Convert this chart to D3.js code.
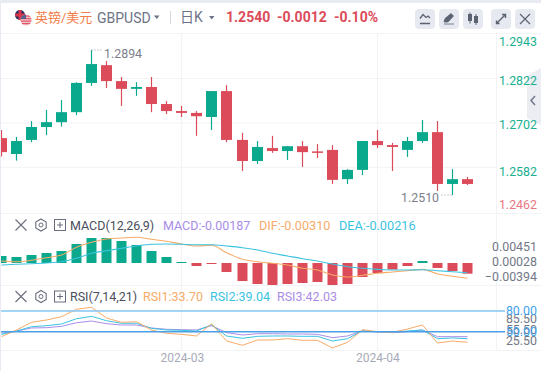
<!DOCTYPE html>
<html>
<head>
<meta charset="utf-8">
<script src="https://cdn.jsdelivr.net/npm/d3@7"></script>
<style>
  html, body { margin: 0; padding: 0; background: #fff; overflow: hidden; }
  text { font-family: Roboto, "Noto Sans CJK SC", sans-serif; }
</style>
</head>
<body>
<svg id="chart" width="541" height="371"></svg>
<script>
// GBP/USD daily candles
const opens = [1.2661, 1.2618, 1.2656, 1.2691, 1.2704, 1.2731, 1.2810, 1.2858, 1.2815, 1.2794, 1.2799, 1.2753, 1.2734, 1.2729, 1.2718, 1.2788, 1.2656, 1.2599, 1.2634, 1.2626, 1.2639, 1.2625, 1.2629, 1.2550, 1.2575, 1.2653, 1.2642, 1.2629, 1.2653, 1.2677, 1.2537, 1.2550];
const highs = [1.2683, 1.2664, 1.2707, 1.2737, 1.2764, 1.2812, 1.2899, 1.2869, 1.2826, 1.2812, 1.2826, 1.2761, 1.2748, 1.2734, 1.2788, 1.2804, 1.2675, 1.2653, 1.2667, 1.2639, 1.2653, 1.2645, 1.2642, 1.2577, 1.2653, 1.2683, 1.2648, 1.2664, 1.2710, 1.2707, 1.2577, 1.2556];
const lows = [1.2611, 1.2600, 1.2650, 1.2669, 1.2692, 1.2723, 1.2802, 1.2796, 1.2748, 1.2775, 1.2731, 1.2726, 1.2718, 1.2667, 1.2683, 1.2650, 1.2572, 1.2591, 1.2621, 1.2602, 1.2583, 1.2607, 1.2537, 1.2537, 1.2561, 1.2634, 1.2572, 1.2610, 1.2648, 1.2518, 1.2507, 1.2534];
const closes = [1.2623, 1.2653, 1.2691, 1.2704, 1.2731, 1.2810, 1.2861, 1.2815, 1.2794, 1.2799, 1.2753, 1.2734, 1.2729, 1.2720, 1.2788, 1.2656, 1.2599, 1.2637, 1.2626, 1.2639, 1.2623, 1.2621, 1.2548, 1.2575, 1.2653, 1.2642, 1.2637, 1.2653, 1.2677, 1.2537, 1.2550, 1.2537];

const macdBars = [0.00124, 0.00106, 0.00142, 0.00177, 0.00212, 0.00336, 0.00442, 0.00442, 0.00389, 0.00319, 0.00212, 0.00106, 0.00018, -0.00053, -0.00018, -0.00159, -0.00319, -0.00372, -0.00389, -0.00372, -0.00354, -0.00336, -0.00389, -0.00372, -0.00248, -0.00177, -0.00115, -0.00053, 0.00035, -0.00088, -0.00142, -0.00189];
const difLine = [0.00035, 0.00023, 0.00048, 0.00094, 0.00142, 0.00278, 0.00366, 0.00425, 0.00442, 0.00455, 0.00419, 0.00384, 0.00336, 0.00301, 0.00313, 0.00182, 0.00065, 0.00023, -0.00005, -0.00035, -0.00094, -0.00124, -0.00212, -0.00248, -0.00218, -0.00182, -0.00159, -0.00136, -0.00112, -0.00195, -0.00235, -0.00271];
const deaLine = [-0.00035, -0.00023, -0.00012, 0, 0.00023, 0.00083, 0.00172, 0.00218, 0.0026, 0.00301, 0.00331, 0.00336, 0.00331, 0.00324, 0.00324, 0.00301, 0.00271, 0.0023, 0.00172, 0.00124, 0.00076, 0.00035, -0.00018, -0.00065, -0.00094, -0.00112, -0.00124, -0.00124, -0.00119, -0.00136, -0.00154, -0.00172];

const rsi1 = [42.8, 52.5, 63.6, 67.0, 71.7, 82.5, 85.4, 69.9, 63.6, 64.5, 52.5, 47.7, 46.2, 43.8, 61.6, 36.5, 30.3, 38.0, 38.0, 39.9, 37.5, 37.5, 26.4, 34.6, 52.9, 50.0, 49.1, 53.9, 59.7, 33.6, 36.5, 34.6];
const rsi2 = [46.2, 51.0, 57.2, 58.7, 61.2, 68.8, 72.3, 65.9, 62.2, 62.2, 54.9, 52.5, 52.0, 51.0, 60.1, 43.8, 40.4, 43.3, 43.8, 43.8, 43.3, 43.3, 36.5, 39.9, 51.4, 50.0, 49.6, 51.0, 52.5, 39.9, 40.9, 39.9];
const rsi3 = [47.7, 51.0, 55.4, 55.8, 57.8, 63.0, 65.5, 61.6, 59.7, 59.7, 55.4, 53.5, 52.9, 52.5, 58.7, 48.6, 45.2, 47.1, 47.1, 46.7, 46.7, 46.2, 41.3, 43.8, 51.0, 49.6, 48.6, 50.0, 52.5, 42.8, 42.8, 42.8];

// Axis labels
const priceTicks = [1.2943, 1.2822, 1.2702, 1.2582, 1.2462];
const priceGrid = [1.2822, 1.2702, 1.2582];
const macdTicks = [0.00451, 0.00028, -0.00394];
const rsiRefLevels = [80, 50];
const rsiGreyTicks = [85.5, 55.5, 25.5];
const monthIndex = [12, 25];
const monthLabels = ["2024-03", "2024-04"];

const RED = "#dc4b5a";
const GREEN = "#0aa88c";
const ORANGE = "#f8ab68";
const CYAN = "#3cc3e0";
const PURPLE = "#a98ce8";
const GRID = "#f2f3f6";
const AXIS_FONT = "12.4px";

const svg = d3.select("#chart");
const indices = d3.range(opens.length);

const xScale = d3.scaleLinear().domain([0, 31]).range([1.5, 467.5]);
const priceScale = d3.scaleLinear().domain([1.2822, 1.2582]).range([78.5, 167.3]);
const macdScale = d3.scaleLinear().domain([-0.004, 0.004]).range([285.6, 240.4]);
const macdLabelScale = d3.scaleLinear().domain([-0.00394, 0.00451]).range([276.7, 247]);
const rsiScale = d3.scaleLinear().domain([50, 80]).range([331.7, 311]);
const rsiLabelScale = d3.scaleLinear().domain([25.5, 85.5]).range([341, 319]);

/**
 * Snaps a candle index to a pixel centre so wicks stay crisp.
 */
function cx(i) {
  return Math.round(xScale(i) - 0.5) + 0.5;
}

/**
 * Writes one piece of text.
 */
function label(parent, x, y, str, color, size, extra) {
  const t = parent.append("text")
    .attr("x", x)
    .attr("y", y)
    .attr("fill", color)
    .style("font-size", size + "px")
    .text(str);
  if (extra && extra.weight) t.style("font-weight", extra.weight);
  if (extra && extra.anchor) t.attr("text-anchor", extra.anchor);
  return t;
}

/**
 * Draws page frame, panel separators and vertical grid.
 */
function drawFrame() {
  svg.append("rect").attr("width", 541).attr("height", 3).attr("fill", "#e8ebf2");
  svg.append("rect").attr("width", 1).attr("height", 371).attr("fill", "#e8ebf2");

  [33.5, 213.5, 285.5, 350.5].forEach(y => {
    svg.append("line").attr("x1", 1).attr("x2", 541).attr("y1", y).attr("y2", y).attr("stroke", GRID);
  });
  priceGrid.forEach(p => {
    svg.append("line").attr("x1", 1).attr("x2", 497).attr("y1", priceScale(p)).attr("y2", priceScale(p)).attr("stroke", GRID);
  });
  monthIndex.forEach(i => {
    svg.append("line").attr("x1", cx(i)).attr("x2", cx(i)).attr("y1", 34).attr("y2", 350).attr("stroke", GRID).attr("stroke-width", 1.2);
  });
  svg.append("line").attr("x1", 496.5).attr("x2", 496.5).attr("y1", 34).attr("y2", 350).attr("stroke", GRID);

  // collapse handle on the right edge
  svg.append("path").attr("d", "M541,68L527,76V118L541,125Z").attr("fill", "#ecedf3");
  svg.append("path").attr("d", "M535,96L531,100.5L535,105").attr("fill", "none").attr("stroke", "#6d7386").attr("stroke-width", 1.4);
}

/**
 * Draws the flags, title, quote and the tool buttons of the top bar.
 */
function drawHeader() {
  const defs = svg.append("defs");
  defs.append("clipPath").attr("id", "ukClip").append("circle").attr("cx", 20).attr("cy", 15).attr("r", 5);
  defs.append("clipPath").attr("id", "usClip").append("circle").attr("cx", 26).attr("cy", 20).attr("r", 5.5);

  const uk = svg.append("g").attr("clip-path", "url(#ukClip)");
  uk.append("rect").attr("x", 14).attr("y", 9).attr("width", 12).attr("height", 12).attr("fill", "#26305f");
  uk.append("rect").attr("x", 14).attr("y", 13.5).attr("width", 12).attr("height", 3).attr("fill", "#d8344a");
  uk.append("rect").attr("x", 18.5).attr("y", 9).attr("width", 3).attr("height", 12).attr("fill", "#d8344a");

  const us = svg.append("g").attr("clip-path", "url(#usClip)");
  us.append("rect").attr("x", 20).attr("y", 14).attr("width", 12).attr("height", 12).attr("fill", "#f3c4c8");
  [15.5, 18, 20.5, 23].forEach(y => {
    us.append("rect").attr("x", 20).attr("y", y).attr("width", 12).attr("height", 1.2).attr("fill", "#e0566a");
  });
  us.append("rect").attr("x", 20).attr("y", 14).attr("width", 6).attr("height", 5).attr("fill", "#55608c");

  label(svg, 35, 21.5, "英镑/美元", "#f27c4a", 13);
  label(svg, 97, 23, "GBPUSD", "#6d7386", 14);
  svg.append("path").attr("d", "M154,15.5h5.5l-2.75,3.5Z").attr("fill", "#6d7386");
  svg.append("line").attr("x1", 170.5).attr("x2", 170.5).attr("y1", 11).attr("y2", 24).attr("stroke", "#d5d8e0");
  label(svg, 180, 22, "日K", "#6d7386", 14);
  svg.append("path").attr("d", "M209,16h5.5l-2.75,3.5Z").attr("fill", "#6d7386");
  label(svg, 226, 21.5, "1.2540", RED, 14, { weight: 700 });
  label(svg, 277, 21.5, "-0.0012", RED, 14, { weight: 700 });
  label(svg, 334, 21.5, "-0.10%", RED, 14, { weight: 700 });

  const buttonX = [415, 439, 463, 491, 515];
  buttonX.forEach(x => {
    svg.append("rect").attr("x", x).attr("y", 9).attr("width", 20).attr("height", 20).attr("rx", 4).attr("fill", "#e6e9f0");
  });
  const icon = "#5d6272";
  svg.append("path").attr("d", "M420,18.5l3,-4l3,3l2,-1.5l2,2M420,23.5h10").attr("fill", "none").attr("stroke", icon).attr("stroke-width", 1.3);
  svg.append("path").attr("d", "M444,22l1,-3.5l6,-5l2.5,2.5l-5.5,6ZM444,24h10").attr("fill", icon).attr("stroke", icon).attr("stroke-width", 0.8);
  svg.append("rect").attr("x", 468).attr("y", 14).attr("width", 4).attr("height", 7).attr("fill", icon);
  svg.append("rect").attr("x", 474).attr("y", 16).attr("width", 4).attr("height", 7).attr("fill", icon);
  svg.append("path").attr("d", "M470,12.5v11M476,14v11").attr("stroke", icon);
  svg.append("path").attr("d", "M497,23l8,-8M502,14.5h3.5v3.5M499.5,23.5h-3v-3").attr("fill", "none").attr("stroke", icon).attr("stroke-width", 1.4);
  svg.append("path").attr("d", "M520,14l10,10M530,14l-10,10").attr("stroke", icon).attr("stroke-width", 1.2);
}

/**
 * Draws the candlesticks and the high / low annotations.
 */
function drawCandles() {
  const colorOf = i => closes[i] >= opens[i] ? GREEN : RED;
  const g = svg.append("g").attr("clip-path", "url(#plotClip)");

  g.selectAll(".wick").data(indices).join("line")
    .attr("class", "wick")
    .attr("x1", cx).attr("x2", cx)
    .attr("y1", i => priceScale(highs[i]))
    .attr("y2", i => priceScale(lows[i]))
    .attr("stroke", colorOf)
    .attr("stroke-width", 1.2);

  g.selectAll(".body").data(indices).join("rect")
    .attr("class", "body")
    .attr("x", i => cx(i) - 5.5)
    .attr("width", 11)
    .attr("y", i => priceScale(Math.max(opens[i], closes[i])))
    .attr("height", i => Math.max(1, Math.abs(priceScale(opens[i]) - priceScale(closes[i]))))
    .attr("fill", colorOf);

  const hiY = priceScale(highs[6]);
  const loY = priceScale(lows[30]);
  svg.append("line").attr("x1", cx(6)).attr("x2", cx(6) + 11).attr("y1", hiY).attr("y2", hiY)
    .attr("stroke", "#9a9daa").attr("stroke-dasharray", "1 2");
  label(svg, 104, 58, "1.2894", "#7b7f8d", 12.4);
  svg.append("line").attr("x1", cx(30) - 11).attr("x2", cx(30)).attr("y1", loY).attr("y2", loY)
    .attr("stroke", "#9a9daa").attr("stroke-dasharray", "1 2");
  label(svg, 401, 202, "1.2510", "#7b7f8d", 12.4);
}

/**
 * Draws the little close / settings / add icons in front of an indicator name.
 */
function drawIndicatorIcons(y) {
  const stroke = "#6a6e7c";
  svg.append("path").attr("d", `M15.5,${y - 5.5}l11,11M26.5,${y - 5.5}l-11,11`).attr("stroke", stroke).attr("stroke-width", 1.1);
  svg.append("path")
    .attr("d", `M41,${y - 6}l5.2,3v6l-5.2,3l-5.2,-3v-6Z`)
    .attr("fill", "none").attr("stroke", stroke).attr("stroke-width", 1.1);
  svg.append("circle").attr("cx", 41).attr("cy", y).attr("r", 2).attr("fill", "none").attr("stroke", stroke);
  svg.append("rect").attr("x", 54.5).attr("y", y - 5.5).attr("width", 11).attr("height", 11).attr("fill", "none").attr("stroke", stroke);
  svg.append("path").attr("d", `M60,${y - 3}v6M57,${y}h6`).attr("stroke", stroke);
}

/**
 * Draws the MACD pane.
 */
function drawMacd() {
  drawIndicatorIcons(225);
  label(svg, 70, 230, "MACD(12,26,9)", "#4a4e5c", 12.5);
  label(svg, 163, 230, "MACD:-0.00187", PURPLE, 12.5);
  label(svg, 259, 230, "DIF:-0.00310", ORANGE, 12.7);
  label(svg, 339, 230, "DEA:-0.00216", CYAN, 12.7);

  const g = svg.append("g").attr("clip-path", "url(#plotClip)");
  g.selectAll(".macd-bar").data(indices).join("rect")
    .attr("class", "macd-bar")
    .attr("x", i => cx(i) - 5)
    .attr("width", 10)
    .attr("y", i => macdBars[i] >= 0 ? macdScale(macdBars[i]) : macdScale(0))
    .attr("height", i => Math.max(1, Math.abs(macdScale(macdBars[i]) - macdScale(0))))
    .attr("fill", i => macdBars[i] >= 0 ? GREEN : RED);

  const line = d3.line().x(d => cx(d.i)).y(d => macdScale(d.v)).curve(d3.curveMonotoneX);
  [[difLine, ORANGE], [deaLine, CYAN]].forEach(([values, color]) => {
    g.append("path")
      .attr("d", line(values.map((v, i) => ({ i: i, v: v }))))
      .attr("fill", "none")
      .attr("stroke", color)
      .attr("stroke-width", 1.1);
  });

  const axis = svg.append("g")
    .attr("transform", "translate(537,0)")
    .call(d3.axisRight(macdLabelScale).tickValues(macdTicks).tickFormat(d3.format(".5f")).tickSize(0).tickPadding(0));
  axis.select(".domain").remove();
  axis.selectAll("text").attr("text-anchor", "end").attr("fill", "#737887").style("font-size", AXIS_FONT)
    .style("font-family", "Roboto, sans-serif");
}

/**
 * Draws the RSI pane with its reference levels.
 */
function drawRsi() {
  drawIndicatorIcons(296.5);
  label(svg, 70, 301, "RSI(7,14,21)", "#4a4e5c", 12.5);
  label(svg, 143, 301, "RSI1:33.70", ORANGE, 12.5);
  label(svg, 210, 301, "RSI2:39.04", CYAN, 12.5);
  label(svg, 277, 301, "RSI3:42.03", PURPLE, 12.5);

  const g = svg.append("g").attr("clip-path", "url(#plotClip)");
  const line = d3.line().x(d => cx(d.i)).y(d => rsiScale(d.v));
  [[rsi3, PURPLE], [rsi2, CYAN], [rsi1, ORANGE]].forEach(([values, color]) => {
    g.append("path")
      .attr("d", line(values.map((v, i) => ({ i: i, v: v }))))
      .attr("fill", "none")
      .attr("stroke", color)
      .attr("stroke-width", 1);
  });

  svg.append("line").attr("x1", 1).attr("x2", 505).attr("y1", rsiScale(80)).attr("y2", rsiScale(80))
    .attr("stroke", "#86c6f2").attr("stroke-width", 1.6);
  svg.append("line").attr("x1", 1).attr("x2", 505).attr("y1", rsiScale(50)).attr("y2", rsiScale(50))
    .attr("stroke", "#4a9fe6").attr("stroke-width", 1.4);

  const grey = svg.append("g")
    .attr("transform", "translate(537,0)")
    .call(d3.axisRight(rsiLabelScale).tickValues(rsiGreyTicks).tickFormat(d3.format(".2f")).tickSize(0).tickPadding(0));
  grey.select(".domain").remove();
  grey.selectAll("text").attr("text-anchor", "end").attr("fill", "#737887").style("font-size", AXIS_FONT)
    .style("font-family", "Roboto, sans-serif");

  const ref = svg.append("g")
    .attr("transform", "translate(537,0)")
    .call(d3.axisRight(rsiScale).tickValues(rsiRefLevels).tickFormat(d3.format(".2f")).tickSize(0).tickPadding(0));
  ref.select(".domain").remove();
  ref.selectAll("text").attr("text-anchor", "end").attr("fill", "#3fa2ee").style("font-size", AXIS_FONT)
    .style("font-family", "Roboto, sans-serif");
}

/**
 * Draws the price labels and the month labels.
 */
function drawAxes() {
  // the chart pushes the outer price labels inward, so these do not sit on the scale
  const nudge = [7.5, 1, 1, 3.4, -7.5];
  const axis = svg.append("g")
    .attr("transform", "translate(537,0)")
    .call(d3.axisRight(priceScale).tickValues(priceTicks).tickFormat(d3.format(".4f")).tickSize(0).tickPadding(0));
  axis.select(".domain").remove();
  axis.selectAll("text")
    .attr("text-anchor", "end")
    .attr("dy", (d, i) => (nudge[i] + 4.5) + "px")
    .attr("fill", d => d === 1.2462 ? "#ea7682" : "#1aaf8f")
    .style("font-size", AXIS_FONT)
    .style("font-family", "Roboto, sans-serif");

  const monthAxis = svg.append("g")
    .attr("transform", "translate(0,350)")
    .call(d3.axisBottom(d3.scaleLinear().domain([0, 31]).range([xScale(0), xScale(31)]))
      .tickValues(monthIndex)
      .tickFormat((d, i) => monthLabels[i])
      .tickSize(0)
      .tickPadding(3));
  monthAxis.select(".domain").remove();
  monthAxis.selectAll("text").attr("fill", "#a8abb8").style("font-size", "12px")
    .style("font-family", "Roboto, sans-serif");
}

svg.append("clipPath").attr("id", "plotClip").append("rect").attr("x", 1).attr("y", 0).attr("width", 496).attr("height", 371);

drawFrame();
drawHeader();
drawCandles();
drawMacd();
drawRsi();
drawAxes();
</script>
</body>
</html>
